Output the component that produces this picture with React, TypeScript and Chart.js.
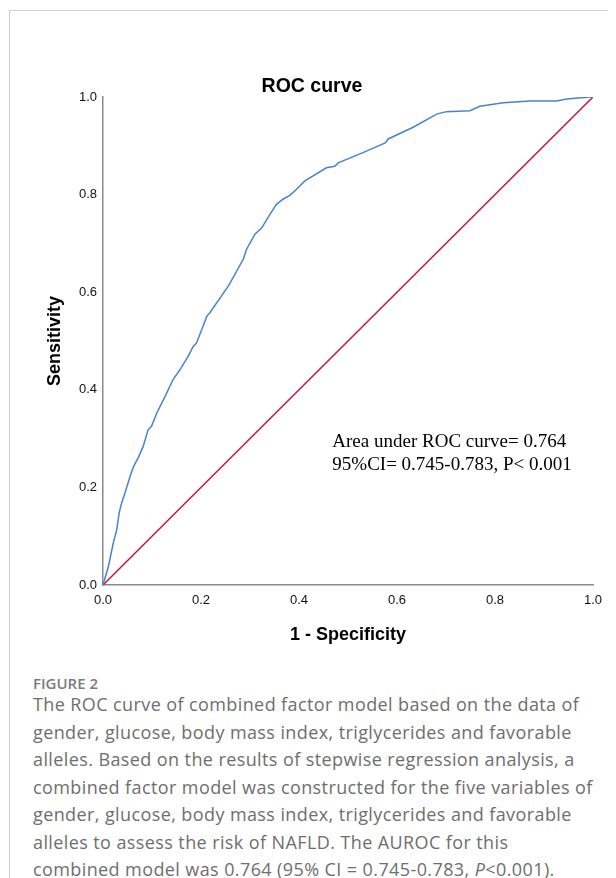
import React, { useEffect, useRef } from "react";
import { Chart, registerables } from "chart.js";

Chart.register(...registerables);

// ROC curve points
const fpr = [
  0, 0.011, 0.021, 0.028, 0.033, 0.038, 0.045, 0.055, 0.062, 0.072, 0.082, 0.092, 0.099, 0.11,
  0.127, 0.143, 0.157, 0.174, 0.184, 0.191, 0.212, 0.218, 0.256, 0.286, 0.293, 0.31, 0.324,
  0.341, 0.354, 0.368, 0.382, 0.395, 0.412, 0.456, 0.473, 0.48, 0.528, 0.576, 0.582, 0.633,
  0.681, 0.701, 0.749, 0.769, 0.817, 0.871, 0.926, 0.946, 0.994, 1,
];
const tpr = [
  0, 0.038, 0.086, 0.113, 0.148, 0.168, 0.189, 0.222, 0.242, 0.261, 0.284, 0.318, 0.325, 0.353,
  0.387, 0.421, 0.441, 0.469, 0.489, 0.496, 0.551, 0.558, 0.613, 0.667, 0.688, 0.719, 0.732,
  0.76, 0.78, 0.791, 0.799, 0.811, 0.828, 0.855, 0.858, 0.865, 0.885, 0.906, 0.914, 0.938,
  0.965, 0.97, 0.972, 0.981, 0.988, 0.992, 0.992, 0.996, 1, 1,
];
const refX = [0, 1];
const refY = [0, 1];
const tickValues = [0, 0.2, 0.4, 0.6, 0.8, 1.0];

const chartTitle = "ROC curve";
const xTitle = "1 - Specificity";
const yTitle = "Sensitivity";
const annotationLines = ["Area under ROC curve= 0.764", "95%CI= 0.745-0.783, P< 0.001"];
const annotationAnchor = [0.468, 0.294];

const captionLabel = "FIGURE 2";
const captionLines = [
  "The ROC curve of combined factor model based on the data of",
  "gender, glucose, body mass index, triglycerides and favorable",
  "alleles. Based on the results of stepwise regression analysis, a",
  "combined factor model was constructed for the five variables of",
  "gender, glucose, body mass index, triglycerides and favorable",
  "alleles to assess the risk of NAFLD. The AUROC for this",
];
const captionLastA = "combined model was 0.764 (95% CI = 0.745-0.783, ";
const captionLastP = "P";
const captionLastB = "<0.001).";

const SANS = "'Liberation Sans', Arial, sans-serif";

const annotationPlugin = {
  id: "aucText",
  afterDatasetsDraw(chart: any) {
    const { ctx, scales } = chart;
    const x = scales.x;
    const y = scales.y;
    ctx.save();
    ctx.font = "19px 'Liberation Serif', 'Times New Roman', serif";
    ctx.fillStyle = "#000";
    ctx.textBaseline = "middle";
    ctx.textAlign = "left";
    const left = x.getPixelForValue(annotationAnchor[0]);
    const top = y.getPixelForValue(annotationAnchor[1]);
    annotationLines.forEach((t, i) => ctx.fillText(t, left, top + i * 23));
    ctx.restore();
  },
};

export default function App() {
  const ref = useRef<HTMLCanvasElement | null>(null);

  useEffect(() => {
    document.documentElement.style.overflow = "hidden";
    document.body.style.overflow = "visible";
    const canvas = ref.current;
    if (!canvas) return;
    Chart.defaults.font.family = SANS;
    const fixTicks = (s: any) => {
      s.ticks = tickValues.map((v) => ({ value: v }));
    };
    const chart = new Chart(canvas, {
      type: "scatter",
      data: {
        datasets: [
          {
            label: "ROC",
            data: fpr.map((v, i) => ({ x: v, y: tpr[i] })),
            showLine: true,
            borderColor: "#4a82cc",
            borderWidth: 1.5,
            pointRadius: 0,
            tension: 0,
            fill: false,
          },
          {
            label: "Reference",
            data: refX.map((v, i) => ({ x: v, y: refY[i] })),
            showLine: true,
            borderColor: "#c2163f",
            borderWidth: 1.5,
            pointRadius: 0,
            fill: false,
          },
        ],
      },
      options: {
        animation: false,
        responsive: false,
        devicePixelRatio: 1,
        layout: { padding: { left: 23, right: 15, top: 0, bottom: 22 } },
        plugins: {
          legend: { display: false },
          tooltip: { enabled: false },
          title: {
            display: true,
            text: chartTitle,
            color: "#000",
            font: { size: 19.5, weight: "bold", family: SANS, lineHeight: 1 },
            padding: { top: 69, bottom: 0.5 },
          },
        },
        scales: {
          x: {
            type: "linear",
            min: 0,
            max: 1,
            afterBuildTicks: fixTicks,
            afterFit: (s: any) => {
              s.height = 61;
              s.paddingLeft = 0;
              s.paddingRight = 0;
            },
            grid: { display: false, drawTicks: false },
            border: { display: true, color: "#8a8a8a", width: 1.5 },
            ticks: {
              color: "#111",
              font: { size: 13, family: SANS },
              padding: 8,
              maxRotation: 0,
              callback: (v: any) => Number(v).toFixed(1),
            },
            title: {
              display: true,
              text: xTitle,
              color: "#000",
              font: { size: 18, weight: "bold", family: SANS },
              padding: 0,
            },
          },
          y: {
            type: "linear",
            min: 0,
            max: 1,
            afterBuildTicks: fixTicks,
            afterFit: (s: any) => {
              s.width = 72;
              s.paddingTop = 0;
              s.paddingBottom = 0;
            },
            grid: { display: false, drawTicks: false },
            border: { display: true, color: "#8a8a8a", width: 1.5 },
            ticks: {
              color: "#111",
              font: { size: 13, family: SANS },
              padding: 6,
              callback: (v: any) => Number(v).toFixed(1),
            },
            title: {
              display: true,
              text: yTitle,
              color: "#000",
              font: { size: 18, weight: "bold", family: SANS },
              padding: { top: 13, bottom: 0 },
            },
          },
        },
      },
      plugins: [annotationPlugin],
    });
    return () => chart.destroy();
  }, []);

  const captionFont = "'Open Sans', 'Noto Sans', sans-serif";
  return (
    <div style={{ position: "relative", width: 600, height: 870 }}>
      <div
        style={{
          position: "absolute",
          left: 1,
          top: 2,
          width: 607,
          height: 868,
          borderTop: "1px solid #cfcfcf",
          borderLeft: "1px solid #cfcfcf",
          boxSizing: "border-box",
        }}
      />
      <canvas
        ref={ref}
        width={600}
        height={660}
        style={{ position: "absolute", left: 0, top: 0, width: 600, height: 660 }}
      />
      <div
        style={{
          position: "absolute",
          left: 25,
          top: 665,
          fontFamily: captionFont,
          fontSize: 15,
          fontWeight: 600,
          lineHeight: "20px",
          color: "#7a7a7a",
          whiteSpace: "nowrap",
        }}
      >
        {captionLabel}
      </div>
      <div
        style={{
          position: "absolute",
          left: 25,
          top: 683,
          fontFamily: captionFont,
          fontSize: 18,
          letterSpacing: "0.4px",
          lineHeight: "27.5px",
          color: "#6e6e6e",
          whiteSpace: "nowrap",
        }}
      >
        {captionLines.map((l, i) => (
          <div key={i}>{l}</div>
        ))}
        <div>
          {captionLastA}
          <i>{captionLastP}</i>
          {captionLastB}
        </div>
      </div>
    </div>
  );
}
